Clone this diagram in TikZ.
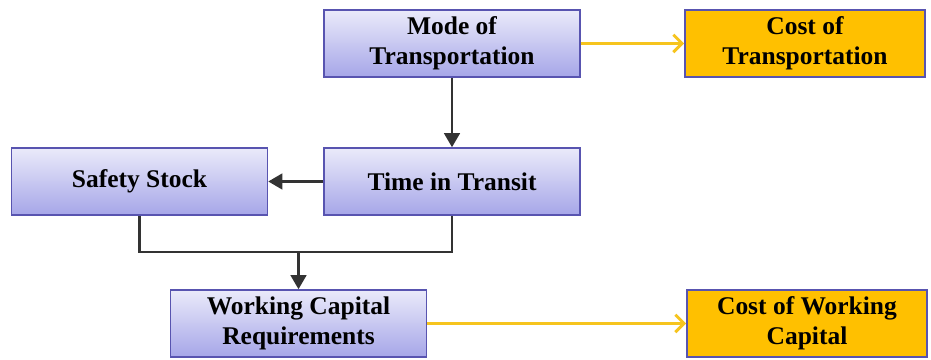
\documentclass[tikz,border=0pt]{standalone}
\usepackage{fontspec}
\setmainfont{Liberation Serif}
\usetikzlibrary{arrows.meta}
\definecolor{lila}{RGB}{88,84,176}
\definecolor{lilatop}{RGB}{234,234,250}
\definecolor{lilabot}{RGB}{166,166,232}
\definecolor{oro}{RGB}{255,192,0}
\definecolor{flecha}{RGB}{246,196,30}
\begin{document}
\begin{tikzpicture}[
    x=1cm,
    y=1cm,
    >={Triangle[length=8pt,width=9pt]},
    font=\fontsize{14.5}{17}\selectfont\bfseries,
    factor/.style={
        draw=lila,
        line width=0.9pt,
        minimum width=5.12cm,
        minimum height=1.34cm,
        align=center,
        top color=lilatop,
        bottom color=lilabot
    },
    costo/.style={
        draw=lila,
        line width=0.9pt,
        minimum width=4.8cm,
        minimum height=1.34cm,
        align=center,
        fill=oro
    },
    enlace/.style={
        line width=1.2pt,
        draw=black!80
    },
    efecto/.style={
        line width=1.7pt,
        draw=flecha,
        -{Straight Barb[length=5pt,width=10pt]}
    }
]
    \useasboundingbox (0,0) rectangle (18.62,7.2);

    \node[factor] (modo) at (9.04,6.33)
        {Mode of\\Transportation};
    \node[costo] (costo-t) at (16.10,6.33)
        {Cost of\\Transportation};
    \node[factor] (seguridad) at (2.79,3.57)
        {Safety Stock};
    \node[factor] (transito) at (9.04,3.57)
        {Time in Transit};
    \node[factor] (capital) at (5.97,0.73)
        {Working Capital\\Requirements};
    \node[costo] (costo-c) at (16.14,0.73)
        {Cost of Working\\Capital};

    \coordinate (union) at (5.97,2.16);

    \draw[enlace,->] (modo) -- (transito);
    \draw[enlace,->] (transito) -- (seguridad);
    \draw[enlace] (seguridad.south) |- (union) -| (transito.south);
    \draw[enlace,->] (union) -- (capital);

    \draw[efecto] (modo) -- (costo-t);
    \draw[efecto] (capital) -- (costo-c);
\end{tikzpicture}
\end{document}
